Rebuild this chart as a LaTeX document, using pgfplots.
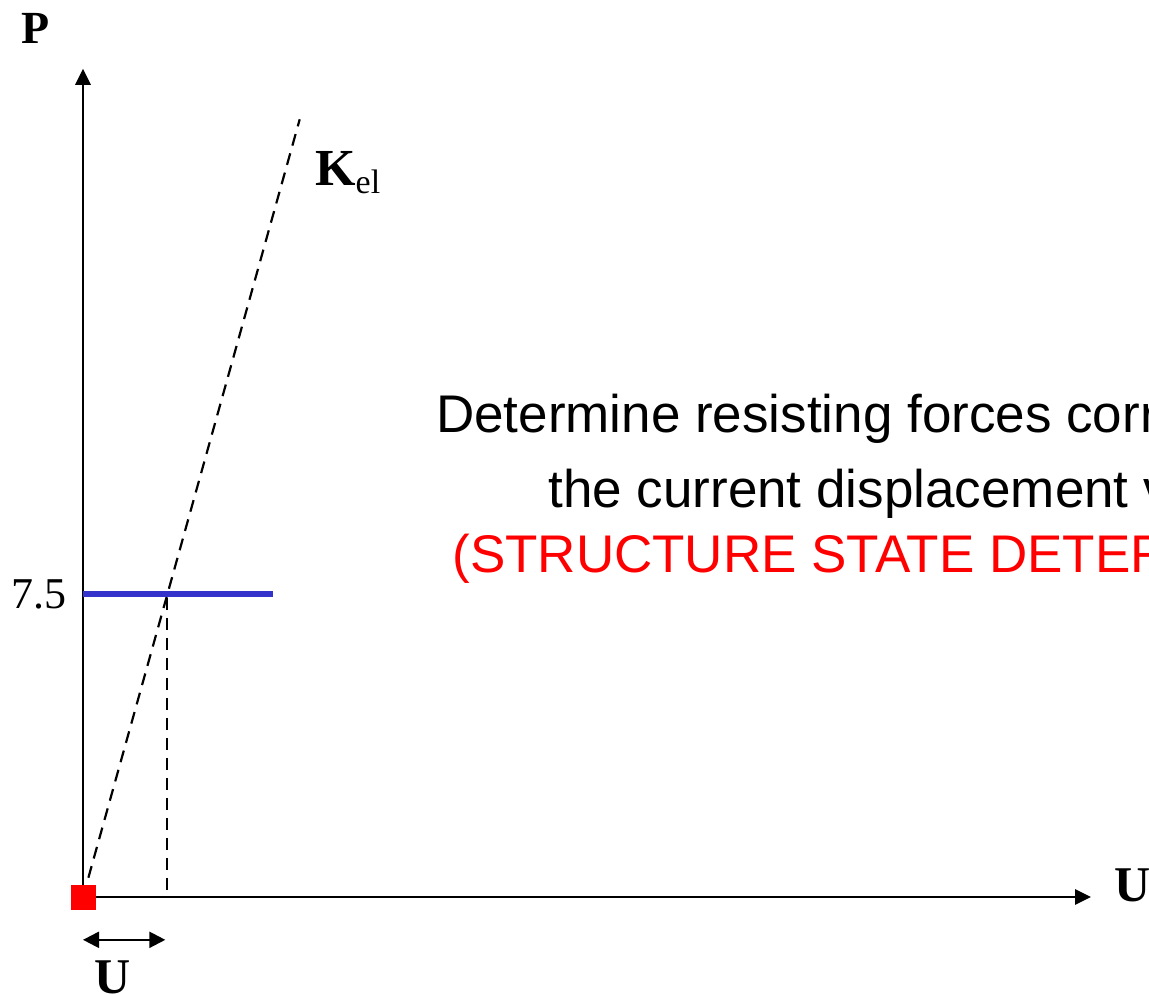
\documentclass[border=0pt]{standalone}
\usepackage{pgfplots}
\pgfplotsset{compat=1.18}
\usetikzlibrary{arrows.meta}
\usepackage{fontspec}
\setmainfont{Liberation Serif}
\newfontfamily\arial{Liberation Sans}
\definecolor{myblue}{RGB}{51,51,204}
\begin{document}
\begin{tikzpicture}
\useasboundingbox (-41.5pt,-48.5pt) rectangle (533pt,448.5pt);
\clip (-41.5pt,-48.5pt) rectangle (533pt,448.5pt);
\begin{axis}[
 at={(0,0)}, anchor=origin,
 x=42pt, y=20.2pt,
 xmin=0,xmax=12,ymin=0,ymax=20.5,
 axis lines=left,
 axis line style={line width=1.4pt, -{Triangle[length=8pt,width=7.5pt]}},
 xtick=\empty, ytick={7.5}, yticklabels={7.5},
 major tick length=0pt,
 yticklabel style={font=\fontsize{22}{22}\selectfont, anchor=east, xshift=-4.5pt},
 clip=false,
]
\addplot[black, line width=1.1pt, dash pattern=on 6pt off 4pt] coordinates {(0,0) (2.58,19.25)};
\addplot[black, line width=1.1pt, dash pattern=on 6pt off 4pt] coordinates {(1,0.17) (1,7.5)};
\addplot[myblue, line width=3pt] coordinates {(0,7.5) (2.26,7.5)};
\addplot[only marks, mark=square*, mark size=6pt, red, mark options={draw=red, fill=red}] coordinates {(0,0)};
\draw[line width=1.1pt, {Triangle[length=8pt,width=8pt]}-{Triangle[length=8pt,width=8pt]}] (axis cs:0,-1.06) -- (axis cs:0.98,-1.06);
\node[font=\bfseries\fontsize{23}{23}\selectfont] at (axis cs:-0.56,21.49) {P};
\node[font=\bfseries\fontsize{25}{25}\selectfont, anchor=base] at (axis cs:12.49,-0.12) {U};
\node[font=\bfseries\fontsize{25}{25}\selectfont, anchor=base] at (axis cs:0.357,-2.40) {U};
\node[font=\fontsize{26}{26}\selectfont, anchor=base west, inner sep=0pt] at (axis cs:2.76,17.62) {\textbf{K}\raisebox{-4pt}{\fontsize{17}{17}\selectfont el}};
\node[font=\arial\fontsize{26.5}{26.5}\selectfont, anchor=base west, inner sep=0pt] at (axis cs:4.20,11.485) {Determine resisting forces corresponding to};
\node[font=\arial\fontsize{26.5}{26.5}\selectfont, anchor=base west, inner sep=0pt] at (axis cs:5.536,9.653) {the current displacement vector};
\node[font=\arial\fontsize{26.5}{26.5}\selectfont, anchor=base west, inner sep=0pt, text=red] at (axis cs:4.393,8.02) {(STRUCTURE STATE DETERMINATION)};
\end{axis}
\end{tikzpicture}
\end{document}
